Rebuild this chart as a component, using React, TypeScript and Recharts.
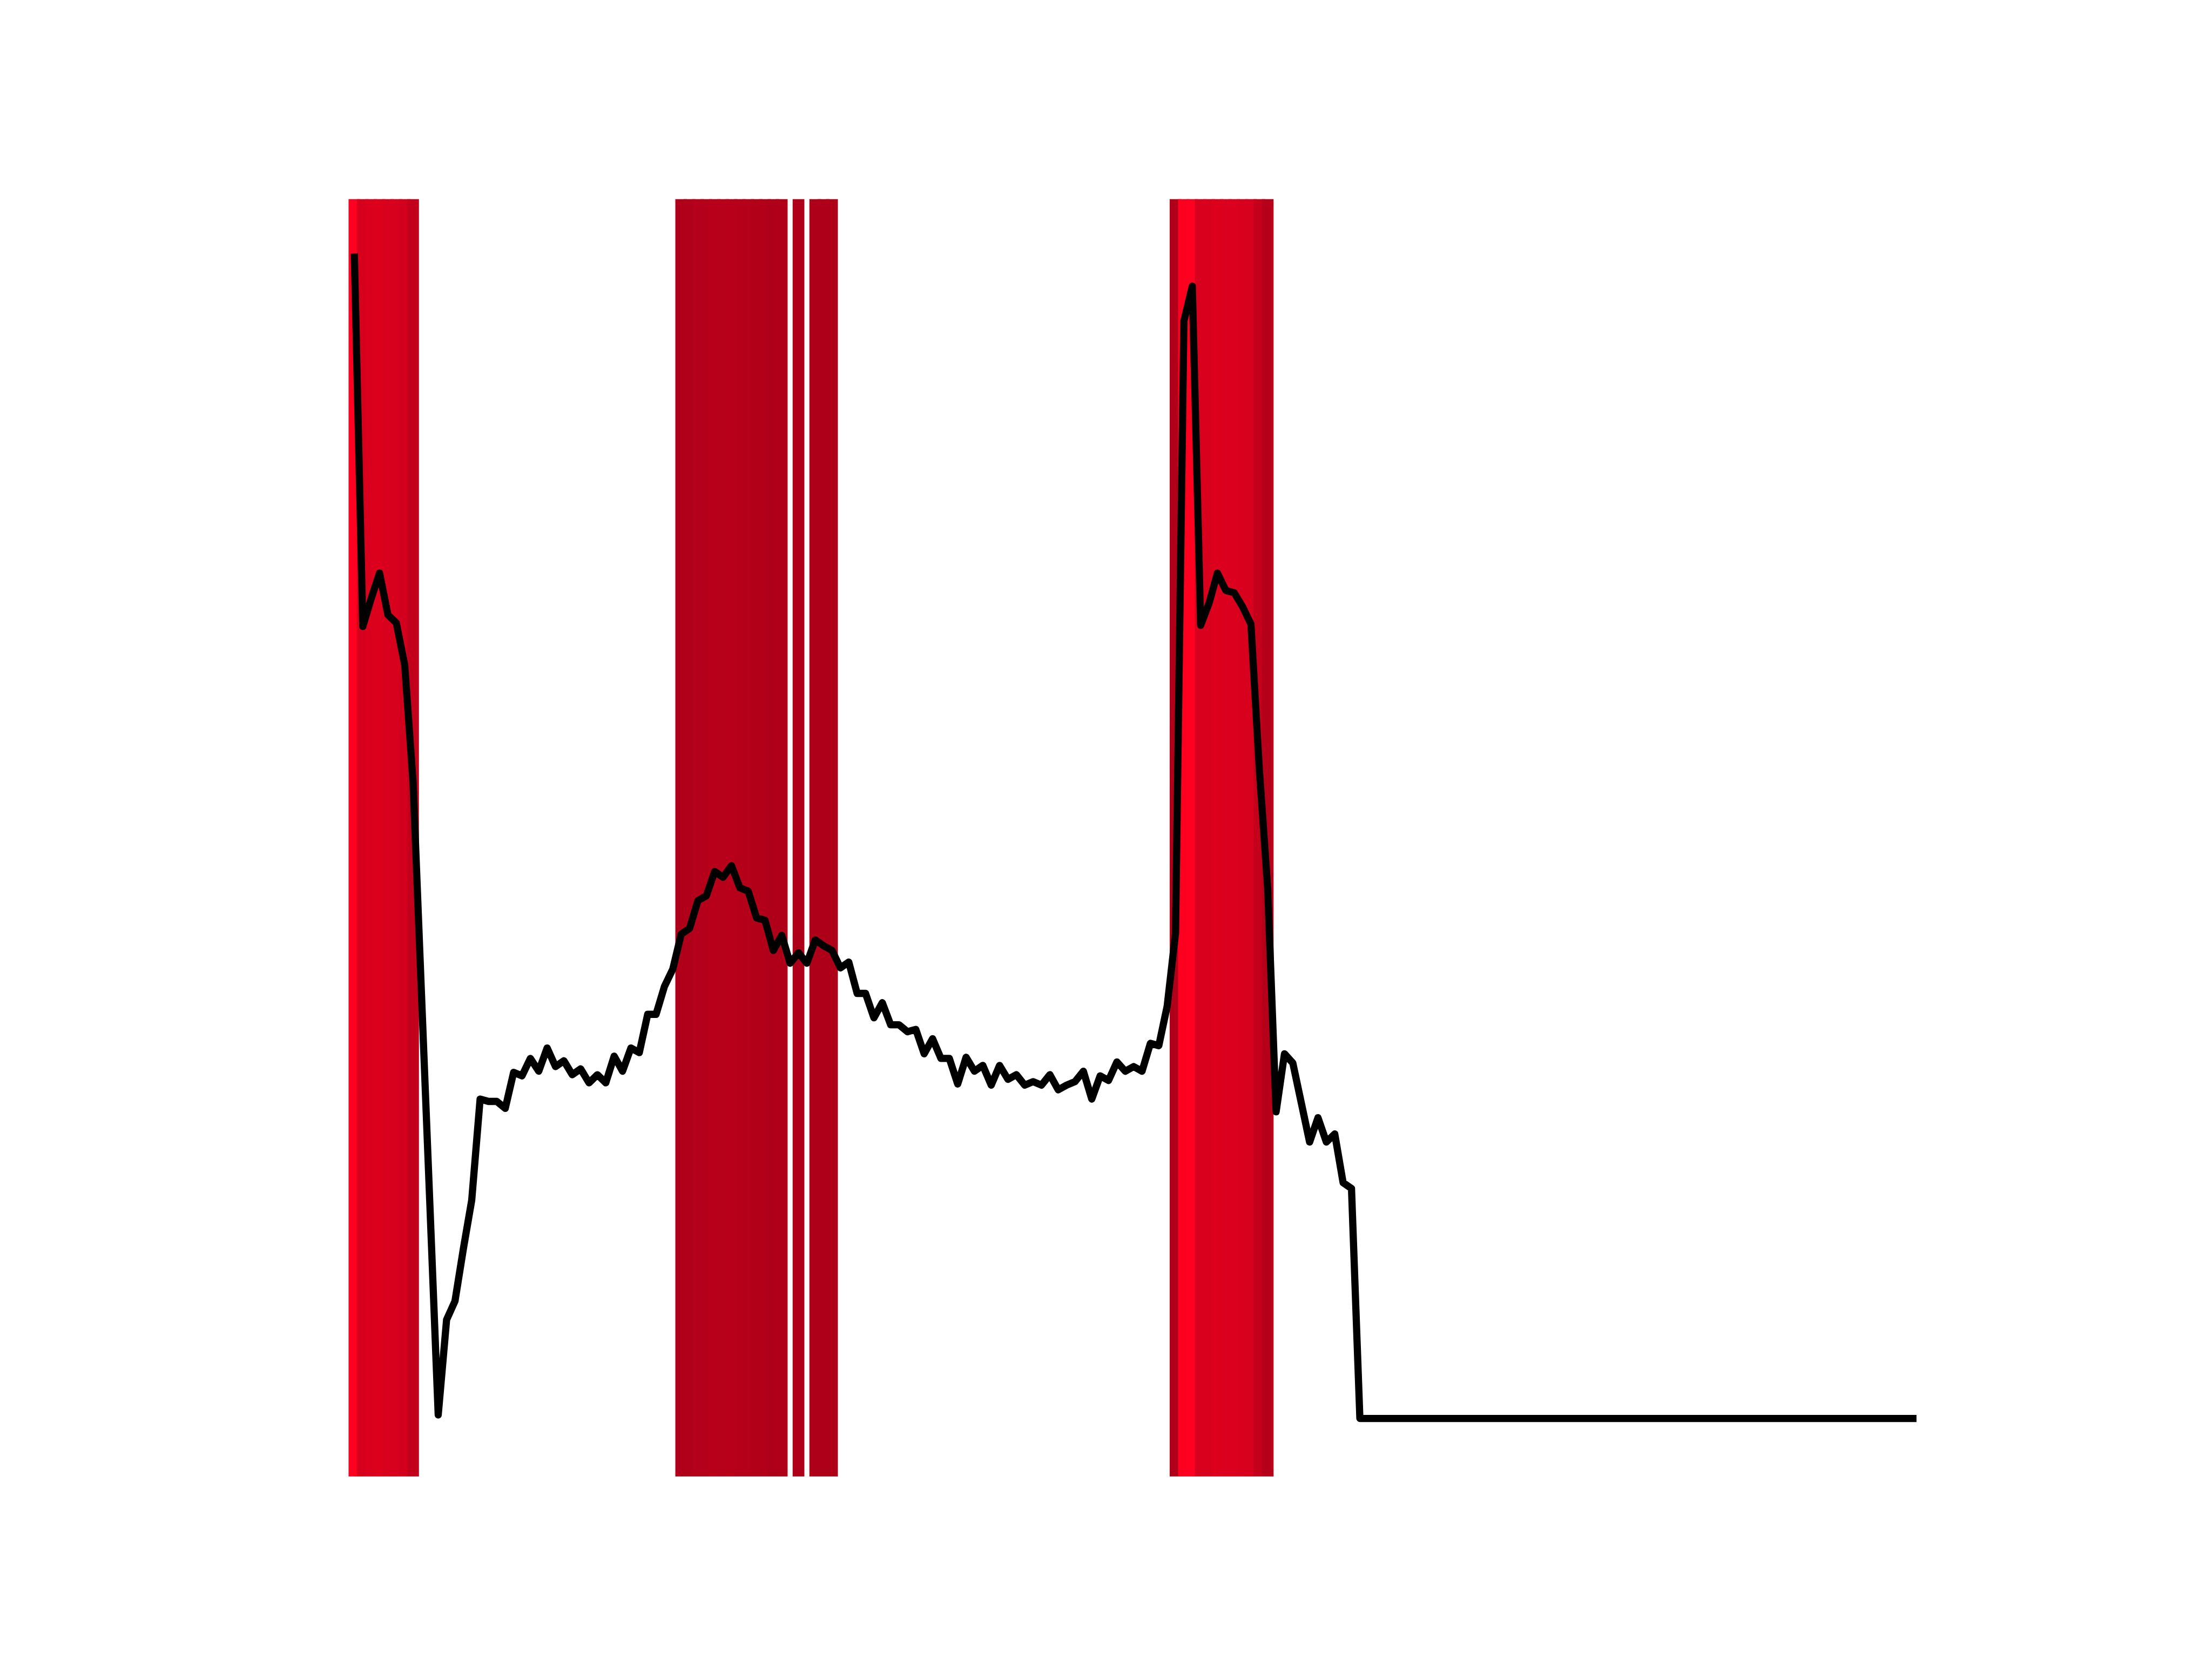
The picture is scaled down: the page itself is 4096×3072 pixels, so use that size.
import React from 'react';
import { ComposedChart, Line, XAxis, YAxis, ReferenceArea } from 'recharts';

// Series values (arbitrary units, 0 = baseline, 100 = maximum), one per step
const values: number[] = [
  100.0, 68.2, 70.6, 72.8, 69.2, 68.5, 64.9, 54.8, 36.6, 18.5,
  0.3, 8.5, 10.1, 14.6, 18.8, 27.5, 27.3, 27.3, 26.7, 29.8,
  29.5, 31.0, 29.9, 31.9, 30.3, 30.8, 29.6, 30.1, 28.9, 29.6,
  28.9, 31.2, 29.9, 31.9, 31.5, 34.8, 34.8, 37.2, 38.7, 41.7,
  42.2, 44.6, 45.0, 47.1, 46.6, 47.6, 45.7, 45.4, 43.1, 42.9,
  40.3, 41.6, 39.2, 40.1, 39.2, 41.2, 40.7, 40.3, 38.8, 39.3,
  36.6, 36.6, 34.5, 35.8, 33.9, 33.9, 33.3, 33.5, 31.4, 32.7,
  31.0, 31.0, 28.8, 31.1, 29.9, 30.4, 28.7, 30.4, 29.2, 29.6,
  28.7, 29.0, 28.7, 29.6, 28.3, 28.7, 29.0, 29.9, 27.5, 29.5,
  29.1, 30.7, 29.9, 30.3, 29.9, 32.3, 32.1, 35.5, 41.8, 94.5,
  97.5, 68.3, 70.2, 72.8, 71.3, 71.1, 69.9, 68.4, 55.9, 45.6,
  26.4, 31.4, 30.6, 27.2, 23.8, 25.9, 23.8, 24.5, 20.3, 19.8,
  0, 0, 0, 0, 0, 0, 0, 0, 0, 0,
  0, 0, 0, 0, 0, 0, 0, 0, 0, 0,
  0, 0, 0, 0, 0, 0, 0, 0, 0, 0,
  0, 0, 0, 0, 0, 0, 0, 0, 0, 0,
  0, 0, 0, 0, 0, 0, 0, 0, 0, 0,
  0, 0, 0, 0, 0, 0, 0, 0, 0, 0,
  0, 0, 0, 0, 0, 0, 0,
];

// Steps that are highlighted by a shaded band
const highlightedSteps: number[] = [
  0, 1, 2, 3, 4, 5, 6, 7,
  39, 40, 41, 42, 43, 44, 45, 46, 47, 48, 49, 50, 51, 53, 55, 56, 57,
  98, 99, 100, 101, 102, 103, 104, 105, 106, 107, 108, 109,
];

const BAND_HALF_WIDTH = 0.7;

// colormap: darker crimson for lower values, bright red for the highest
function bandColor(v: number): string {
  const r = Math.max(0, Math.min(255, Math.round(174 + (v - 40.3) * 1.45)));
  const b = Math.round(25 + ((r - 174) * 7) / 81);
  return `rgb(${r},0,${b})`;
}

const data = values.map((v, i) => ({ x: i, v }));

const lastIndex = values.length - 1;
const xPad = lastIndex * 0.05;
const yMax = Math.max(...values);
const yPad = yMax * 0.05;

export default function App() {
  return (
    <div style={{ position: 'absolute', left: 0, top: 0, width: 4096, height: 3072, background: '#ffffff' }}>
      <ComposedChart
        width={4096}
        height={3072}
        data={data}
        margin={{ top: 368.64, right: 409.6, bottom: 337.92, left: 512 }}
      >
        <XAxis
          type="number"
          dataKey="x"
          domain={[-xPad, lastIndex + xPad]}
          allowDataOverflow
          hide
        />
        <YAxis type="number" domain={[-yPad, yMax + yPad]} allowDataOverflow hide />
        {highlightedSteps.map((i) => (
          <ReferenceArea
            key={`band-${i}`}
            x1={i - BAND_HALF_WIDTH}
            x2={i + BAND_HALF_WIDTH}
            fill={bandColor(values[i])}
            fillOpacity={1}
            stroke="none"
            ifOverflow="visible"
          />
        ))}
        <Line
          type="linear"
          dataKey="v"
          stroke="#000000"
          strokeWidth={13.33}
          strokeLinejoin="round"
          strokeLinecap="square"
          dot={false}
          activeDot={false}
          isAnimationActive={false}
        />
      </ComposedChart>
    </div>
  );
}
